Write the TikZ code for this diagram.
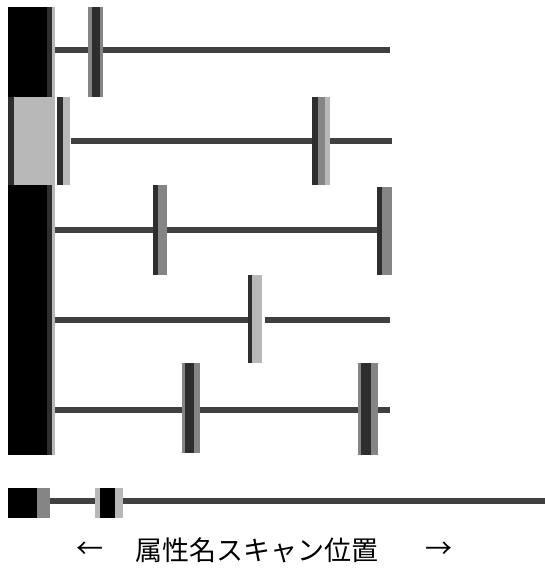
\documentclass[tikz,border=0pt]{standalone}
\usepackage{fontspec}
\newfontfamily\jpfont{Noto Sans CJK JP}
\usepackage{xcolor}
\usepackage{tikz}
\usetikzlibrary{positioning}

\definecolor{barline}{gray}{0.25}
\definecolor{markdark}{gray}{0.18}
\definecolor{markmid}{gray}{0.52}
\definecolor{marklight}{gray}{0.72}

\begin{document}
\begin{tikzpicture}[x=1pt, y=-1pt,
    scanline/.style={draw=barline, line width=6pt},
    darkbox/.style={fill=black},
    midbox/.style={fill=markmid},
    lightbox/.style={fill=marklight},
    edgebox/.style={fill=markdark},
    labeltext/.style={font=\jpfont\fontsize{27}{29}\selectfont}]
    \useasboundingbox (0,0) rectangle (545,574);

    % 1. Thanh dọc bên trái
    \fill[darkbox] (8,7) rectangle (47,455);
    \fill[edgebox] (47,7) rectangle (52,455);
    \fill[lightbox] (52,7) rectangle (55,455);
    % ô xám ở hàng 2
    \fill[edgebox] (8,97) rectangle (14,185);
    \fill[lightbox] (14,97) rectangle (55,185);
    \fill[edgebox] (57,97) rectangle (63,185);
    \fill[lightbox] (63,97) rectangle (70,185);

    % 2. Các đường quét ngang
    \draw[scanline] (55,50) -- (390,50);
    \draw[scanline] (71,141) -- (312,141);
    \draw[scanline] (330,141) -- (392,141);
    \draw[scanline] (55,230) -- (377,230);
    \draw[scanline] (55,320) -- (248,320);
    \draw[scanline] (265,320) -- (390,320);
    \draw[scanline] (55,410) -- (390,410);

    % 3. Các vạch đánh dấu
    % hàng 1
    \fill[midbox] (88,7) rectangle (103,97);
    \fill[markdark] (92,7) rectangle (100,97);
    % hàng 2
    \fill[midbox] (312,97) rectangle (330,185);
    \fill[edgebox] (312,97) rectangle (318,185);
    \fill[lightbox] (325,97) rectangle (330,185);
    % hàng 3
    \fill[midbox] (153,185) rectangle (167,275);
    \fill[edgebox] (153,185) rectangle (158,275);
    \fill[midbox] (377,187) rectangle (392,275);
    \fill[edgebox] (377,187) rectangle (382,275);
    % hàng 4
    \fill[lightbox] (248,275) rectangle (262,363);
    \fill[edgebox] (248,275) rectangle (252,363);
    % hàng 5
    \fill[midbox] (182,363) rectangle (200,453);
    \fill[markdark] (185,363) rectangle (194,453);
    \fill[midbox] (358,363) rectangle (378,455);
    \fill[markdark] (361,363) rectangle (371,455);

    % 4. Thanh dưới cùng
    \draw[scanline] (50,501) -- (545,501);
    \fill[darkbox] (8,488) rectangle (37,518);
    \fill[markmid] (37,488) rectangle (50,518);
    \fill[marklight] (95,488) rectangle (123,518);
    \fill[black] (100,488) rectangle (115,518);

    % 5. Nhãn
    \node[labeltext] (scanpos) at (257,550) {属性名スキャン位置};
    \node[labeltext] (leftarr) at (90,550) {←};
    \node[labeltext] (rightarr) at (439,550) {→};
\end{tikzpicture}
\end{document}
